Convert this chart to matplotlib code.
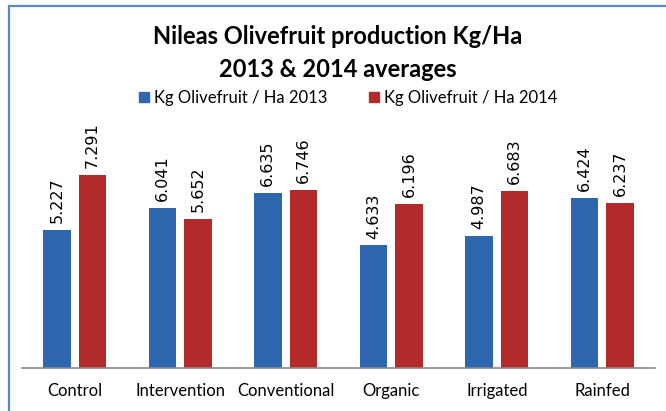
import matplotlib
matplotlib.use("Agg")
import matplotlib.pyplot as plt
import matplotlib.patches as mpatches
import numpy as np

categories = ["Control", "Intervention", "Conventional", "Organic", "Irrigated", "Rainfed"]
vals_2013 = [5.227, 6.041, 6.635, 4.633, 4.987, 6.424]
vals_2014 = [7.291, 5.652, 6.746, 6.196, 6.683, 6.237]
series_names = ["Kg Olivefruit / Ha 2013", "Kg Olivefruit / Ha 2014"]
title_text = "Nileas Olivefruit production Kg/Ha\n2013 & 2014 averages"

blue = "#2E67B0"
red = "#B22B2A"
font = ["Lato", "DejaVu Sans"]

W, H = 666, 411
fig = plt.figure(figsize=(W / 100, H / 100), dpi=100)
fig.patch.set_facecolor("white")

ax = fig.add_axes([22 / W, 1 - 368 / H, (655 - 22) / W, (368 - 156.4) / H])
x = np.arange(len(categories))
bw = 0.26
off = 0.17
b1 = ax.bar(x - off, vals_2013, bw, color=blue, label=series_names[0])
b2 = ax.bar(x + off, vals_2014, bw, color=red, label=series_names[1])
ax.set_xlim(-0.5, len(categories) - 0.5)
ax.set_ylim(0, 8)
for s in ["top", "right", "left"]:
    ax.spines[s].set_visible(False)
ax.spines["bottom"].set_color("#888888")
ax.spines["bottom"].set_linewidth(1.2)
ax.set_yticks([])
ax.set_xticks(x)
ax.set_xticklabels(categories, fontsize=12, family=font)
ax.tick_params(axis="x", length=0, pad=11)

for bars, vals in [(b1, vals_2013), (b2, vals_2014)]:
    for r, v in zip(bars, vals):
        ax.annotate(f"{v:.3f}", (r.get_x() + r.get_width() / 2, r.get_height()),
                    xytext=(0, 5), textcoords="offset points", rotation=90,
                    ha="center", va="bottom", fontsize=11.5, family="DejaVu Sans",
                    clip_on=False)

fig.text(338 / W, 1 - 53 / H, title_text, ha="center", va="center",
         fontsize=17, fontweight="bold", family=font, linespacing=1.5)

handles = [mpatches.Patch(color=blue), mpatches.Patch(color=red)]
fig.legend(handles, series_names, loc="center", bbox_to_anchor=(348 / W, 1 - 98 / H),
           ncol=2, frameon=False, prop={"family": font, "size": 12},
           handlelength=0.6, handleheight=0.6, handletextpad=0.3, columnspacing=2.5)

border = mpatches.Rectangle((9 / W, -0.1), 1.2, 1 - 6 / H + 0.1, transform=fig.transFigure,
                            fill=False, edgecolor="#5B87C5", linewidth=1.6)
fig.patches.append(border)

fig.savefig("out.png", dpi=100)
